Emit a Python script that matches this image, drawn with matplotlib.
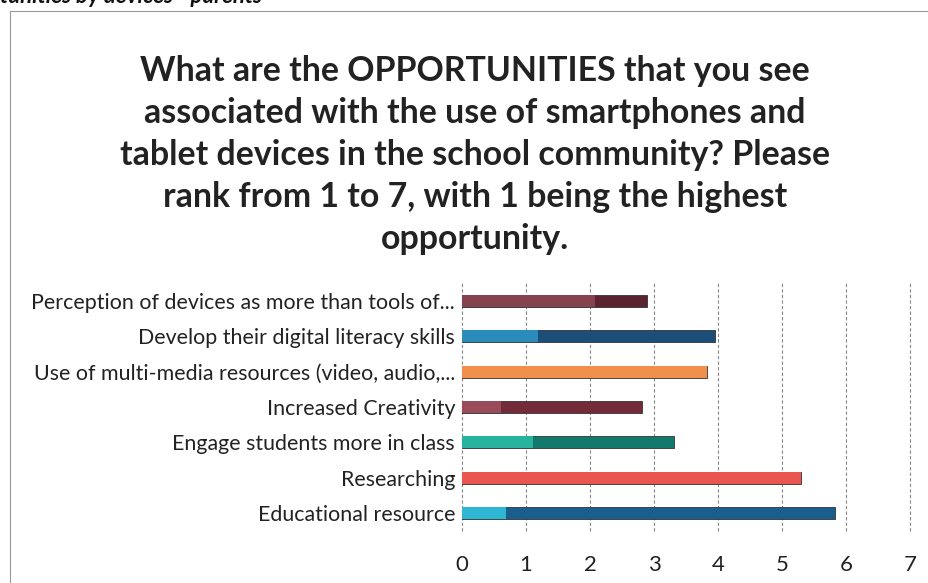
import matplotlib.pyplot as plt

plt.rcParams['font.family'] = ['Lato', 'DejaVu Sans']

# Mean rank per opportunity (top to bottom as shown)
categories = ['Perception of devices as more than tools of...',
              'Develop their digital literacy skills',
              'Use of multi-media resources (video, audio,...',
              'Increased Creativity',
              'Engage students more in class',
              'Researching',
              'Educational resource']
values = [2.89, 3.96, 3.83, 2.81, 3.32, 5.30, 5.83]
# length of the lighter lead-in shade on each bar
light_part = [2.08, 1.19, 3.83, 0.61, 1.11, 5.30, 0.69]

light_colors = ['#86424f', '#2b8cbc', '#f1904a', '#9a4b59', '#27b39d', '#e9564f', '#2eb6d2']
dark_colors = ['#5b2330', '#1b4e79', '#f1904a', '#742b39', '#127a6c', '#e9564f', '#1a5e8d']

title = ('What are the OPPORTUNITIES that you see\n'
         'associated with the use of smartphones and\n'
         'tablet devices in the school community? Please\n'
         'rank from 1 to 7, with 1 being the highest\n'
         'opportunity.')

fig = plt.figure(figsize=(9.29, 5.83), dpi=100)
ax = fig.add_axes([0.4973, 0.0892, 0.4822, 0.4254])

y = list(range(len(categories)))[::-1]
ax.barh(y, values, height=0.34, color=dark_colors, edgecolor='#333333', linewidth=0.6, zorder=3)
ax.barh(y, light_part, height=0.34, color=light_colors, linewidth=0, zorder=4)

ax.set_xlim(0, 7)
ax.set_ylim(-0.5, 6.5)
ax.set_xticks(range(8))
ax.set_yticks(y)
ax.set_yticklabels(categories, fontsize=15.4, color='#222222')
ax.tick_params(axis='x', labelsize=16, colors='#222222', length=0, pad=17)
ax.tick_params(axis='y', length=0, pad=5)
ax.grid(axis='x', color='#888888', linestyle=(0, (3, 2)), linewidth=0.8, zorder=0)
for gl in ax.get_xgridlines():
    gl.set_clip_on(False)
for s in ax.spines.values():
    s.set_visible(False)

fig.text(0.511, 0.906, title, ha='center', va='top', fontsize=24.4, fontweight='bold',
         color='#222222', linespacing=1.39)

# header of the page above the chart, clipped at the top edge
fig.text(0.0, 1.006, 'tunities by devices - parents', ha='left', va='center',
         fontsize=16, fontweight='bold', style='italic', color='#111111')

# chart frame
fig.add_artist(plt.Line2D([0.011, 0.011], [0.0, 0.981], color='#999999', linewidth=0.8))
fig.add_artist(plt.Line2D([0.011, 1.0], [0.981, 0.981], color='#999999', linewidth=0.8))

fig.savefig('out.png', dpi=100)
